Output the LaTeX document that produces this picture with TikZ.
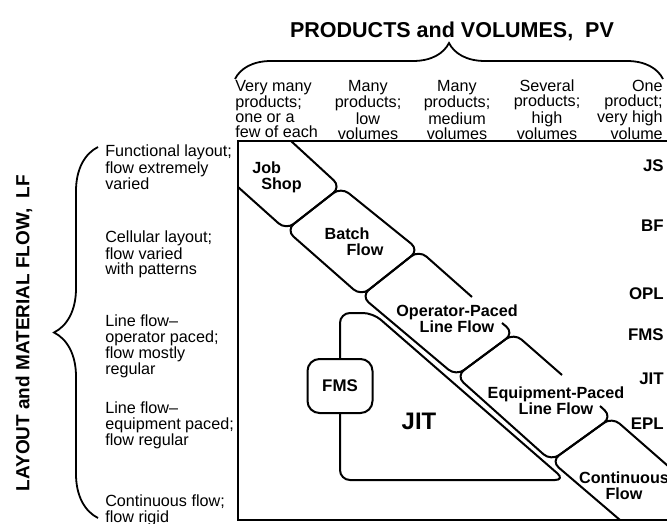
\documentclass[tikz,border=0pt]{standalone}
\usepackage{fontspec}
\setsansfont{Liberation Sans}
\usetikzlibrary{positioning,calc,decorations.pathreplacing}

\begin{document}
\begin{tikzpicture}[
    x=0.25mm, y=-0.25mm,
    every node/.style={font=\sffamily, inner sep=0pt},
    hdr/.style={font={\sffamily\fontsize{11.5}{10.6}\selectfont}},
    lfl/.style={font={\sffamily\fontsize{11.5}{10.7}\selectfont}, align=left, anchor=north west},
    sidetag/.style={font={\sffamily\bfseries\fontsize{12}{12}\selectfont}, anchor=east},
    flowtxt/.style={font={\sffamily\bfseries\fontsize{11.5}{11.5}\selectfont}, align=center},
    lobe/.style={draw, line width=0.5mm, rounded corners=2.5mm, line join=round},
    axisline/.style={draw, line width=0.6mm},
    fmsbox/.style={rectangle, draw, line width=0.5mm, rounded corners=3mm, minimum width=16.25mm, minimum height=13.5mm, font={\sffamily\bfseries\fontsize{12}{12}\selectfont}},
    brc/.style={decorate, line width=0.45mm}
]
\useasboundingbox (0,0) rectangle (667,524);

% ═══════════════════════════════════════════════════════════════
% Titles and braces
% ═══════════════════════════════════════════════════════════════
\node[font={\sffamily\bfseries\fontsize{15.3}{15.3}\selectfont}, anchor=base] (pvtitle) at (452,37.7) {PRODUCTS and VOLUMES,\ \ PV};
\node[font={\sffamily\bfseries\fontsize{13.5}{13.5}\selectfont}, rotate=90] (lftitle) at (24,333) {LAYOUT and MATERIAL FLOW,\ \ LF};

\draw[brc, decoration={brace, amplitude=9mm}] (235,79) -- (663,79);
\draw[brc, decoration={brace, amplitude=11mm}] (98,518) -- (98,147);

% ═══════════════════════════════════════════════════════════════
% Column heads (products and volumes)
% ═══════════════════════════════════════════════════════════════
\node[hdr, align=left, anchor=north west] (pv1) at (235,80) {Very many\\products;\\one or a\\few of each};
\node[hdr, align=center, anchor=north] (pv2) at (368,80) {Many\\products;\\low\\volumes};
\node[hdr, align=center, anchor=north] (pv3) at (457,80) {Many\\products;\\medium\\volumes};
\node[hdr, align=center, anchor=north] (pv4) at (547,80) {Several\\products;\\high\\volumes};
\node[hdr, align=right, anchor=north east] (pv5) at (663,80) {One\\product;\\very high\\volume};

% ═══════════════════════════════════════════════════════════════
% Row heads (layout and material flow)
% ═══════════════════════════════════════════════════════════════
\node[lfl] (lf1) at (105,145) {Functional layout;\\flow extremely\\varied};
\node[lfl] (lf2) at (105,231) {Cellular layout;\\flow varied\\with patterns};
\node[lfl] (lf3) at (105,315) {Line flow--\\operator paced;\\flow mostly\\regular};
\node[lfl] (lf4) at (105,402) {Line flow--\\equipment paced;\\flow regular};
\node[lfl] (lf5) at (105,495) {Continuous flow;\\flow rigid};

% Matrix frame
\coordinate (frTR) at (667,141);
\coordinate (frTL) at (238,141);
\coordinate (frBL) at (238,520);
\coordinate (frBR) at (667,520);
\draw[axisline] (frTR) -- (frTL) -- (frBL) -- (frBR);

% ═══════════════════════════════════════════════════════════════
% Diagonal band of process types
% ═══════════════════════════════════════════════════════════════
\coordinate (jsTop) at (291,141);
\coordinate (jsLeft) at (238,187);
\coordinate (jsR) at (341,187);
\coordinate (jsB) at (286,230);
\coordinate (bfR) at (419,250);
\coordinate (bfB) at (361,296);
\coordinate (oplS) at (502,323);
\coordinate (oplR) at (514,333);
\coordinate (oplB) at (456,376);
\coordinate (oplF) at (472,297);
\coordinate (eplS) at (600,406);
\coordinate (eplR) at (612,417);
\coordinate (eplB) at (551,461);
\coordinate (eplF) at (562,375);
\coordinate (cfU) at (700,494);
\coordinate (cfL) at (620,520);

\draw[lobe] (jsTop) -- (jsR) -- (jsB) -- (jsLeft);
\draw[lobe] (jsB) -- (jsR) -- (bfR) -- (bfB) -- cycle;
\draw[lobe] (oplS) -- (oplR) -- (oplB) -- (bfB) -- (bfR) -- (oplF);
\draw[lobe] (eplS) -- (eplR) -- (eplB) -- (oplB) -- (oplR) -- (eplF);
\draw[lobe] (cfU) -- (eplR) -- (eplB) -- (cfL);

\node[flowtxt, align=left] (jsl) at (277,177) {Job\\\hspace*{2.25mm}Shop};
\node[flowtxt, align=left] (bfl) at (354,242) {Batch\\\hspace*{5.5mm}Flow};
\node[flowtxt] (opll) at (457,319) {Operator-Paced\\Line Flow};
\node[flowtxt] (epll) at (556,401) {Equipment-Paced\\Line Flow};
\node[flowtxt] (cfl) at (624,486) {Continuous\\Flow};

% ═══════════════════════════════════════════════════════════════
% JIT region with FMS
% ═══════════════════════════════════════════════════════════════
\node[fmsbox] (fms) at (340,386) {FMS};
\coordinate (jitTL) at (340,313);
\coordinate (jitTR) at (373,313);
\coordinate (jitBR) at (565,480);
\coordinate (jitBL) at (340,480);
\draw[lobe] (fms.north) -- (jitTL) -- (jitTR) -- (jitBR) -- (jitBL) -- (fms.south);
\node[font={\sffamily\bfseries\fontsize{17}{17}\selectfont}] (jitl) at (419,421) {JIT};

% Right-hand tags
\node[sidetag] (js) at (664,166) {JS};
\node[sidetag] (bf) at (664,226) {BF};
\node[sidetag] (opl) at (664,294) {OPL};
\node[sidetag] (fmst) at (664,335) {FMS};
\node[sidetag] (jit) at (664,379) {JIT};
\node[sidetag] (epl) at (664,424) {EPL};

\end{tikzpicture}
\end{document}
